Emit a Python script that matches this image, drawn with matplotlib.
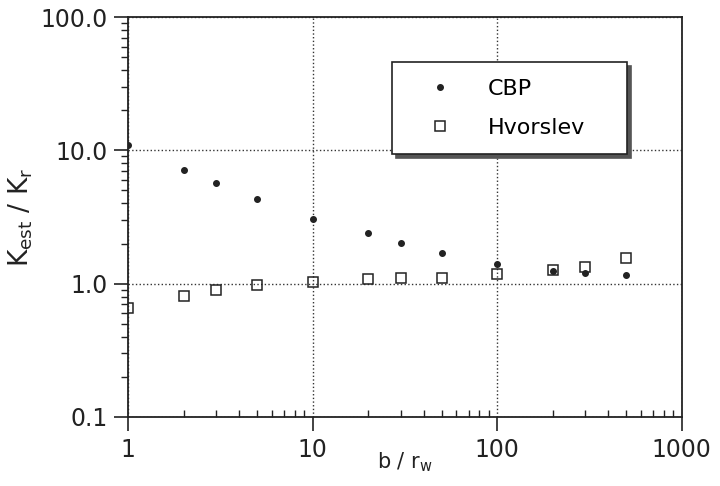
import matplotlib
matplotlib.use("Agg")
import matplotlib.pyplot as plt
from matplotlib.ticker import FixedLocator, FixedFormatter, LogLocator, NullFormatter

plt.rcParams['font.family'] = ['DejaVu Sans']
plt.rcParams['mathtext.default'] = 'regular'

b_over_rw = [1, 2, 3, 5, 10, 20, 30, 50, 100, 200, 300, 500]
cbp = [10.9, 7.1, 5.65, 4.3, 3.08, 2.38, 2.03, 1.71, 1.41, 1.25, 1.21, 1.17]
hvorslev = [0.66, 0.81, 0.90, 0.98, 1.03, 1.08, 1.10, 1.10, 1.19, 1.26, 1.34, 1.57]

x_ticks = [1, 10, 100, 1000]
x_ticklabels = ["1", "10", "100", "1000"]
y_ticks = [0.1, 1.0, 10.0, 100.0]
y_ticklabels = ["0.1", "1.0", "10.0", "100.0"]

ink = '#222222'

fig = plt.figure(figsize=(7.2, 4.86), dpi=100)
ax = fig.add_axes([0.178, 0.142, 0.769, 0.823])
ax.set_xscale('log')
ax.set_yscale('log')
ax.set_xlim(1, 1000)
ax.set_ylim(0.1, 100)

ax.plot(b_over_rw, cbp, linestyle='none', marker='o', markersize=4,
        color=ink, label='CBP', zorder=3)
ax.plot(b_over_rw, hvorslev, linestyle='none', marker='s', markersize=6.5,
        markerfacecolor='none', markeredgecolor=ink, markeredgewidth=1.1,
        label='Hvorslev', zorder=3)

ax.xaxis.set_major_locator(FixedLocator(x_ticks))
ax.xaxis.set_major_formatter(FixedFormatter(x_ticklabels))
ax.yaxis.set_major_locator(FixedLocator(y_ticks))
ax.yaxis.set_major_formatter(FixedFormatter(y_ticklabels))
ax.xaxis.set_minor_locator(LogLocator(base=10, subs=range(2, 10)))
ax.yaxis.set_minor_locator(LogLocator(base=10, subs=range(2, 10)))
ax.xaxis.set_minor_formatter(NullFormatter())
ax.yaxis.set_minor_formatter(NullFormatter())

ax.tick_params(which='major', direction='out', length=10, width=1.2,
               labelsize=17, colors=ink)
ax.tick_params(axis='x', which='major', pad=5)
ax.tick_params(axis='y', which='major', pad=5)
ax.tick_params(axis='x', which='minor', direction='in', length=5, width=1.0, colors=ink)
ax.tick_params(axis='y', which='minor', direction='out', length=5, width=1.0, colors=ink)
ax.tick_params(top=False, right=False, which='both')

ax.grid(True, which='major', linestyle=':', color='#333333', linewidth=1.0)

for s in ax.spines.values():
    s.set_linewidth(1.3)
    s.set_color(ink)

ax.set_xlabel('b / r$_w$', fontsize=15, labelpad=-8, color=ink)
ax.set_ylabel('K$_{est}$ / K$_r$', fontsize=19, labelpad=4, color=ink)

leg = ax.legend(loc='upper left', bbox_to_anchor=(0.477, 0.7875, 0.4245, 0.1),
                mode='expand', borderaxespad=0, fontsize=16,
                frameon=True, fancybox=False,
                shadow={'color': '#555555', 'alpha': 1.0, 'ox': 3, 'oy': -3},
                borderpad=0.75, labelspacing=0.85, handlelength=2.8,
                handletextpad=0.75)
leg.get_frame().set_edgecolor(ink)
leg.get_frame().set_linewidth(1.2)

fig.savefig('out.png', dpi=100)
